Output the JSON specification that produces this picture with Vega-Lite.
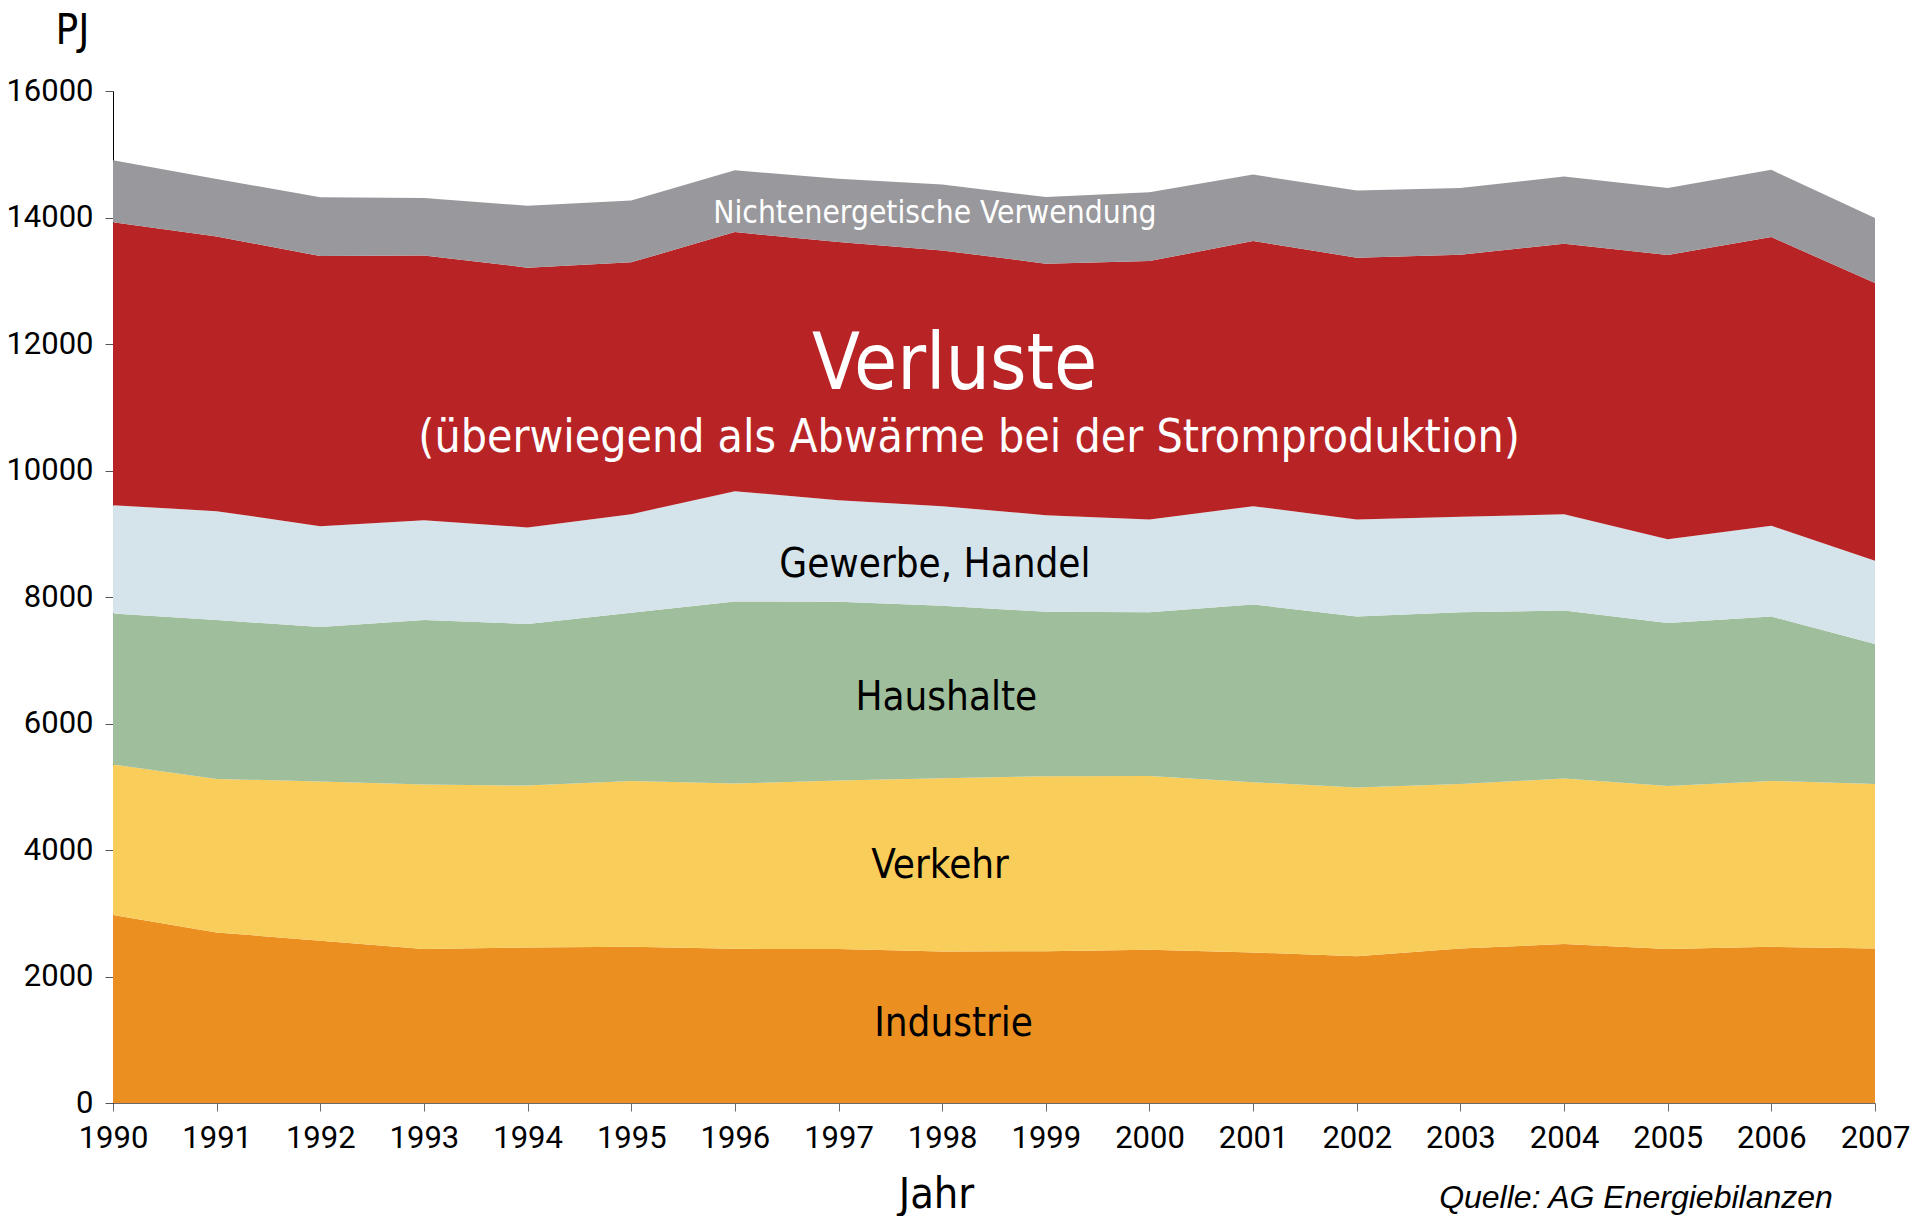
{
  "$schema": "https://vega.github.io/schema/vega-lite/v6.json",
  "width": 1762,
  "height": 1012,
  "autosize": {"type": "none"},
  "padding": {"left": 113, "top": 91, "right": 48, "bottom": 113},
  "background": "white",
  "config": {"view": {"stroke": null}},
  "title": {
    "text": "Quelle: AG Energiebilanzen",
    "orient": "bottom",
    "anchor": "end",
    "font": "Liberation Sans",
    "fontStyle": "italic",
    "fontWeight": "normal",
    "fontSize": 32,
    "color": "#000000",
    "baseline": "top",
    "dx": -77,
    "dy": -33,
    "offset": 0
  },
  "layer": [
    {
      "data": {
        "values": [
          {"jahr": 1990, "sektor": "Industrie", "rang": 1, "pj": 2971},
          {"jahr": 1990, "sektor": "Verkehr", "rang": 2, "pj": 2380},
          {"jahr": 1990, "sektor": "Haushalte", "rang": 3, "pj": 2389},
          {"jahr": 1990, "sektor": "Gewerbe, Handel", "rang": 4, "pj": 1712},
          {"jahr": 1990, "sektor": "Verluste", "rang": 5, "pj": 4471},
          {"jahr": 1990, "sektor": "Nichtenergetische Verwendung", "rang": 6, "pj": 982},
          {"jahr": 1991, "sektor": "Industrie", "rang": 1, "pj": 2697},
          {"jahr": 1991, "sektor": "Verkehr", "rang": 2, "pj": 2427},
          {"jahr": 1991, "sektor": "Haushalte", "rang": 3, "pj": 2511},
          {"jahr": 1991, "sektor": "Gewerbe, Handel", "rang": 4, "pj": 1722},
          {"jahr": 1991, "sektor": "Verluste", "rang": 5, "pj": 4344},
          {"jahr": 1991, "sektor": "Nichtenergetische Verwendung", "rang": 6, "pj": 909},
          {"jahr": 1992, "sektor": "Industrie", "rang": 1, "pj": 2565},
          {"jahr": 1992, "sektor": "Verkehr", "rang": 2, "pj": 2517},
          {"jahr": 1992, "sektor": "Haushalte", "rang": 3, "pj": 2443},
          {"jahr": 1992, "sektor": "Gewerbe, Handel", "rang": 4, "pj": 1595},
          {"jahr": 1992, "sektor": "Verluste", "rang": 5, "pj": 4270},
          {"jahr": 1992, "sektor": "Nichtenergetische Verwendung", "rang": 6, "pj": 929},
          {"jahr": 1993, "sektor": "Industrie", "rang": 1, "pj": 2433},
          {"jahr": 1993, "sektor": "Verkehr", "rang": 2, "pj": 2601},
          {"jahr": 1993, "sektor": "Haushalte", "rang": 3, "pj": 2601},
          {"jahr": 1993, "sektor": "Gewerbe, Handel", "rang": 4, "pj": 1580},
          {"jahr": 1993, "sektor": "Verluste", "rang": 5, "pj": 4186},
          {"jahr": 1993, "sektor": "Nichtenergetische Verwendung", "rang": 6, "pj": 908},
          {"jahr": 1994, "sektor": "Industrie", "rang": 1, "pj": 2459},
          {"jahr": 1994, "sektor": "Verkehr", "rang": 2, "pj": 2559},
          {"jahr": 1994, "sektor": "Haushalte", "rang": 3, "pj": 2557},
          {"jahr": 1994, "sektor": "Gewerbe, Handel", "rang": 4, "pj": 1524},
          {"jahr": 1994, "sektor": "Verluste", "rang": 5, "pj": 4108},
          {"jahr": 1994, "sektor": "Nichtenergetische Verwendung", "rang": 6, "pj": 978},
          {"jahr": 1995, "sektor": "Industrie", "rang": 1, "pj": 2470},
          {"jahr": 1995, "sektor": "Verkehr", "rang": 2, "pj": 2622},
          {"jahr": 1995, "sektor": "Haushalte", "rang": 3, "pj": 2658},
          {"jahr": 1995, "sektor": "Gewerbe, Handel", "rang": 4, "pj": 1560},
          {"jahr": 1995, "sektor": "Verluste", "rang": 5, "pj": 3981},
          {"jahr": 1995, "sektor": "Nichtenergetische Verwendung", "rang": 6, "pj": 978},
          {"jahr": 1996, "sektor": "Industrie", "rang": 1, "pj": 2438},
          {"jahr": 1996, "sektor": "Verkehr", "rang": 2, "pj": 2612},
          {"jahr": 1996, "sektor": "Haushalte", "rang": 3, "pj": 2880},
          {"jahr": 1996, "sektor": "Gewerbe, Handel", "rang": 4, "pj": 1743},
          {"jahr": 1996, "sektor": "Verluste", "rang": 5, "pj": 4096},
          {"jahr": 1996, "sektor": "Nichtenergetische Verwendung", "rang": 6, "pj": 977},
          {"jahr": 1997, "sektor": "Industrie", "rang": 1, "pj": 2433},
          {"jahr": 1997, "sektor": "Verkehr", "rang": 2, "pj": 2665},
          {"jahr": 1997, "sektor": "Haushalte", "rang": 3, "pj": 2828},
          {"jahr": 1997, "sektor": "Gewerbe, Handel", "rang": 4, "pj": 1605},
          {"jahr": 1997, "sektor": "Verluste", "rang": 5, "pj": 4081},
          {"jahr": 1997, "sektor": "Nichtenergetische Verwendung", "rang": 6, "pj": 1002},
          {"jahr": 1998, "sektor": "Industrie", "rang": 1, "pj": 2396},
          {"jahr": 1998, "sektor": "Verkehr", "rang": 2, "pj": 2739},
          {"jahr": 1998, "sektor": "Haushalte", "rang": 3, "pj": 2727},
          {"jahr": 1998, "sektor": "Gewerbe, Handel", "rang": 4, "pj": 1574},
          {"jahr": 1998, "sektor": "Verluste", "rang": 5, "pj": 4044},
          {"jahr": 1998, "sektor": "Nichtenergetische Verwendung", "rang": 6, "pj": 1041},
          {"jahr": 1999, "sektor": "Industrie", "rang": 1, "pj": 2401},
          {"jahr": 1999, "sektor": "Verkehr", "rang": 2, "pj": 2765},
          {"jahr": 1999, "sektor": "Haushalte", "rang": 3, "pj": 2599},
          {"jahr": 1999, "sektor": "Gewerbe, Handel", "rang": 4, "pj": 1529},
          {"jahr": 1999, "sektor": "Verluste", "rang": 5, "pj": 3976},
          {"jahr": 1999, "sektor": "Nichtenergetische Verwendung", "rang": 6, "pj": 1053},
          {"jahr": 2000, "sektor": "Industrie", "rang": 1, "pj": 2422},
          {"jahr": 2000, "sektor": "Verkehr", "rang": 2, "pj": 2749},
          {"jahr": 2000, "sektor": "Haushalte", "rang": 3, "pj": 2586},
          {"jahr": 2000, "sektor": "Gewerbe, Handel", "rang": 4, "pj": 1469},
          {"jahr": 2000, "sektor": "Verluste", "rang": 5, "pj": 4085},
          {"jahr": 2000, "sektor": "Nichtenergetische Verwendung", "rang": 6, "pj": 1090},
          {"jahr": 2001, "sektor": "Industrie", "rang": 1, "pj": 2380},
          {"jahr": 2001, "sektor": "Verkehr", "rang": 2, "pj": 2691},
          {"jahr": 2001, "sektor": "Haushalte", "rang": 3, "pj": 2812},
          {"jahr": 2001, "sektor": "Gewerbe, Handel", "rang": 4, "pj": 1553},
          {"jahr": 2001, "sektor": "Verluste", "rang": 5, "pj": 4191},
          {"jahr": 2001, "sektor": "Nichtenergetische Verwendung", "rang": 6, "pj": 1052},
          {"jahr": 2002, "sektor": "Industrie", "rang": 1, "pj": 2320},
          {"jahr": 2002, "sektor": "Verkehr", "rang": 2, "pj": 2670},
          {"jahr": 2002, "sektor": "Haushalte", "rang": 3, "pj": 2700},
          {"jahr": 2002, "sektor": "Gewerbe, Handel", "rang": 4, "pj": 1536},
          {"jahr": 2002, "sektor": "Verluste", "rang": 5, "pj": 4139},
          {"jahr": 2002, "sektor": "Nichtenergetische Verwendung", "rang": 6, "pj": 1062},
          {"jahr": 2003, "sektor": "Industrie", "rang": 1, "pj": 2443},
          {"jahr": 2003, "sektor": "Verkehr", "rang": 2, "pj": 2602},
          {"jahr": 2003, "sektor": "Haushalte", "rang": 3, "pj": 2712},
          {"jahr": 2003, "sektor": "Gewerbe, Handel", "rang": 4, "pj": 1510},
          {"jahr": 2003, "sektor": "Verluste", "rang": 5, "pj": 4145},
          {"jahr": 2003, "sektor": "Nichtenergetische Verwendung", "rang": 6, "pj": 1053},
          {"jahr": 2004, "sektor": "Industrie", "rang": 1, "pj": 2512},
          {"jahr": 2004, "sektor": "Verkehr", "rang": 2, "pj": 2617},
          {"jahr": 2004, "sektor": "Haushalte", "rang": 3, "pj": 2659},
          {"jahr": 2004, "sektor": "Gewerbe, Handel", "rang": 4, "pj": 1522},
          {"jahr": 2004, "sektor": "Verluste", "rang": 5, "pj": 4276},
          {"jahr": 2004, "sektor": "Nichtenergetische Verwendung", "rang": 6, "pj": 1061},
          {"jahr": 2005, "sektor": "Industrie", "rang": 1, "pj": 2433},
          {"jahr": 2005, "sektor": "Verkehr", "rang": 2, "pj": 2580},
          {"jahr": 2005, "sektor": "Haushalte", "rang": 3, "pj": 2577},
          {"jahr": 2005, "sektor": "Gewerbe, Handel", "rang": 4, "pj": 1325},
          {"jahr": 2005, "sektor": "Verluste", "rang": 5, "pj": 4491},
          {"jahr": 2005, "sektor": "Nichtenergetische Verwendung", "rang": 6, "pj": 1059},
          {"jahr": 2006, "sektor": "Industrie", "rang": 1, "pj": 2470},
          {"jahr": 2006, "sektor": "Verkehr", "rang": 2, "pj": 2622},
          {"jahr": 2006, "sektor": "Haushalte", "rang": 3, "pj": 2598},
          {"jahr": 2006, "sektor": "Gewerbe, Handel", "rang": 4, "pj": 1435},
          {"jahr": 2006, "sektor": "Verluste", "rang": 5, "pj": 4566},
          {"jahr": 2006, "sektor": "Nichtenergetische Verwendung", "rang": 6, "pj": 1062},
          {"jahr": 2007, "sektor": "Industrie", "rang": 1, "pj": 2443},
          {"jahr": 2007, "sektor": "Verkehr", "rang": 2, "pj": 2602},
          {"jahr": 2007, "sektor": "Haushalte", "rang": 3, "pj": 2211},
          {"jahr": 2007, "sektor": "Gewerbe, Handel", "rang": 4, "pj": 1316},
          {"jahr": 2007, "sektor": "Verluste", "rang": 5, "pj": 4392},
          {"jahr": 2007, "sektor": "Nichtenergetische Verwendung", "rang": 6, "pj": 1029}
        ]
      },
      "mark": {"type": "area", "interpolate": "linear"},
      "encoding": {
        "x": {
          "field": "jahr",
          "type": "quantitative",
          "scale": {"domain": [1990, 2007], "nice": false, "zero": false},
          "axis": {
            "values": [1990, 1991, 1992, 1993, 1994, 1995, 1996, 1997, 1998, 1999, 2000, 2001, 2002, 2003, 2004, 2005, 2006, 2007],
            "format": "d",
            "grid": false,
            "labelFlush": false,
            "labelFont": "Roboto",
            "labelFontSize": 31,
            "labelColor": "#000000",
            "labelPadding": 12,
            "tickSize": 8,
            "tickColor": "#6b6b6b",
            "domainColor": "#6b6b6b",
            "title": "Jahr",
            "titleFont": "'Liberation Sans Narrow', 'DejaVu Sans Condensed', sans-serif",
            "titleFontSize": 43,
            "titleFontWeight": "normal",
            "titleColor": "#000000",
            "titleAnchor": "start",
            "titleAlign": "center",
            "titleBaseline": "alphabetic",
            "titleX": 823,
            "titleY": 104
          }
        },
        "y": {
          "field": "pj",
          "type": "quantitative",
          "stack": "zero",
          "scale": {"domain": [0, 16000], "nice": false},
          "axis": {
            "values": [0, 2000, 4000, 6000, 8000, 10000, 12000, 14000, 16000],
            "format": "d",
            "grid": false,
            "labelFlush": false,
            "labelFont": "Roboto",
            "labelFontSize": 31,
            "labelColor": "#000000",
            "labelPadding": 12,
            "tickSize": 8,
            "tickColor": "#555555",
            "domainColor": "#000000",
            "title": "PJ",
            "titleFont": "'Liberation Sans Narrow', 'DejaVu Sans Condensed', sans-serif",
            "titleFontSize": 42,
            "titleFontWeight": "normal",
            "titleColor": "#000000",
            "titleAngle": 0,
            "titleAnchor": "start",
            "titleAlign": "center",
            "titleBaseline": "alphabetic",
            "titleX": -41,
            "titleY": -48
          }
        },
        "color": {
          "field": "sektor",
          "type": "nominal",
          "scale": {
            "domain": ["Industrie", "Verkehr", "Haushalte", "Gewerbe, Handel", "Verluste", "Nichtenergetische Verwendung"],
            "range": ["#EA8F20", "#F9CD5A", "#9FBE9B", "#D5E3EA", "#B82326", "#99989C"]
          },
          "legend": null
        },
        "order": {"field": "rang", "type": "quantitative", "sort": "ascending"}
      }
    },
    {
      "data": {"values": [{"label": "Nichtenergetische Verwendung", "jahr": 1997.93, "pj": 13912}]},
      "mark": {"type": "text", "align": "center", "baseline": "alphabetic", "font": "'Liberation Sans Narrow', 'DejaVu Sans Condensed', sans-serif", "fontSize": 31.5, "color": "#ffffff"},
      "encoding": {
        "x": {"field": "jahr", "type": "quantitative"},
        "y": {"field": "pj", "type": "quantitative"},
        "text": {"field": "label"}
      }
    },
    {
      "data": {"values": [{"label": "Verluste", "jahr": 1998.12, "pj": 11295}]},
      "mark": {"type": "text", "align": "center", "baseline": "alphabetic", "font": "'Liberation Sans Narrow', 'DejaVu Sans Condensed', sans-serif", "fontSize": 78, "color": "#ffffff"},
      "encoding": {
        "x": {"field": "jahr", "type": "quantitative"},
        "y": {"field": "pj", "type": "quantitative"},
        "text": {"field": "label"}
      }
    },
    {
      "data": {"values": [{"label": "(überwiegend als Abwärme bei der Stromproduktion)", "jahr": 1998.26, "pj": 10294}]},
      "mark": {"type": "text", "align": "center", "baseline": "alphabetic", "font": "'Liberation Sans Narrow', 'DejaVu Sans Condensed', sans-serif", "fontSize": 46, "color": "#ffffff"},
      "encoding": {
        "x": {"field": "jahr", "type": "quantitative"},
        "y": {"field": "pj", "type": "quantitative"},
        "text": {"field": "label"}
      }
    },
    {
      "data": {
        "values": [
          {"label": "Gewerbe, Handel", "jahr": 1997.93, "pj": 8319},
          {"label": "Haushalte", "jahr": 1998.04, "pj": 6214},
          {"label": "Verkehr", "jahr": 1997.98, "pj": 3554},
          {"label": "Industrie", "jahr": 1998.11, "pj": 1059}
        ]
      },
      "mark": {"type": "text", "align": "center", "baseline": "alphabetic", "font": "'Liberation Sans Narrow', 'DejaVu Sans Condensed', sans-serif", "fontSize": 40, "color": "#000000"},
      "encoding": {
        "x": {"field": "jahr", "type": "quantitative"},
        "y": {"field": "pj", "type": "quantitative"},
        "text": {"field": "label"}
      }
    }
  ]
}
